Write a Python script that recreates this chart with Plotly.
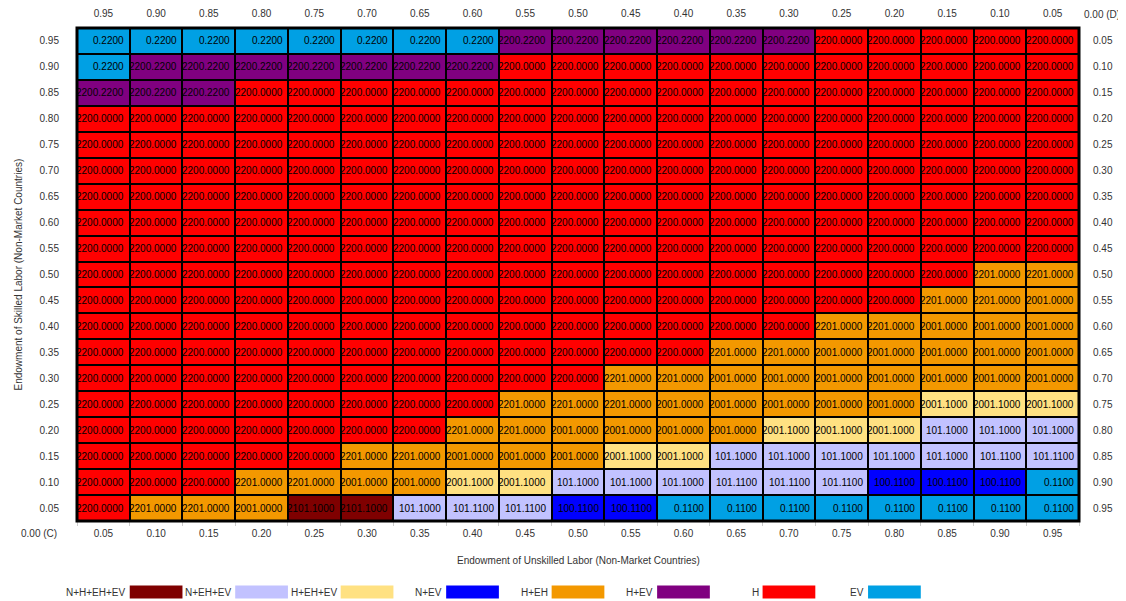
import plotly.graph_objects as go

# ---------------- data ----------------
x_unskilled = [0.05, 0.10, 0.15, 0.20, 0.25, 0.30, 0.35, 0.40, 0.45, 0.50,
               0.55, 0.60, 0.65, 0.70, 0.75, 0.80, 0.85, 0.90, 0.95]
y_skilled = [0.95, 0.90, 0.85, 0.80, 0.75, 0.70, 0.65, 0.60, 0.55, 0.50,
             0.45, 0.40, 0.35, 0.30, 0.25, 0.20, 0.15, 0.10, 0.05]
top_labels = ["0.95", "0.90", "0.85", "0.80", "0.75", "0.70", "0.65", "0.60", "0.55", "0.50",
              "0.45", "0.40", "0.35", "0.30", "0.25", "0.20", "0.15", "0.10", "0.05"]
right_labels = ["0.05", "0.10", "0.15", "0.20", "0.25", "0.30", "0.35", "0.40", "0.45", "0.50",
                "0.55", "0.60", "0.65", "0.70", "0.75", "0.80", "0.85", "0.90", "0.95"]

# rows from top (skilled 0.95) to bottom (skilled 0.05); columns unskilled 0.05 -> 0.95
cell_values = [
    [0.22, 0.22, 0.22, 0.22, 0.22, 0.22, 0.22, 0.22, 2200.22, 2200.22, 2200.22, 2200.22, 2200.22, 2200.22, 2200.0, 2200.0, 2200.0, 2200.0, 2200.0],
    [0.22, 2200.22, 2200.22, 2200.22, 2200.22, 2200.22, 2200.22, 2200.22, 2200.0, 2200.0, 2200.0, 2200.0, 2200.0, 2200.0, 2200.0, 2200.0, 2200.0, 2200.0, 2200.0],
    [2200.22, 2200.22, 2200.22, 2200.0, 2200.0, 2200.0, 2200.0, 2200.0, 2200.0, 2200.0, 2200.0, 2200.0, 2200.0, 2200.0, 2200.0, 2200.0, 2200.0, 2200.0, 2200.0],
    [2200.0, 2200.0, 2200.0, 2200.0, 2200.0, 2200.0, 2200.0, 2200.0, 2200.0, 2200.0, 2200.0, 2200.0, 2200.0, 2200.0, 2200.0, 2200.0, 2200.0, 2200.0, 2200.0],
    [2200.0, 2200.0, 2200.0, 2200.0, 2200.0, 2200.0, 2200.0, 2200.0, 2200.0, 2200.0, 2200.0, 2200.0, 2200.0, 2200.0, 2200.0, 2200.0, 2200.0, 2200.0, 2200.0],
    [2200.0, 2200.0, 2200.0, 2200.0, 2200.0, 2200.0, 2200.0, 2200.0, 2200.0, 2200.0, 2200.0, 2200.0, 2200.0, 2200.0, 2200.0, 2200.0, 2200.0, 2200.0, 2200.0],
    [2200.0, 2200.0, 2200.0, 2200.0, 2200.0, 2200.0, 2200.0, 2200.0, 2200.0, 2200.0, 2200.0, 2200.0, 2200.0, 2200.0, 2200.0, 2200.0, 2200.0, 2200.0, 2200.0],
    [2200.0, 2200.0, 2200.0, 2200.0, 2200.0, 2200.0, 2200.0, 2200.0, 2200.0, 2200.0, 2200.0, 2200.0, 2200.0, 2200.0, 2200.0, 2200.0, 2200.0, 2200.0, 2200.0],
    [2200.0, 2200.0, 2200.0, 2200.0, 2200.0, 2200.0, 2200.0, 2200.0, 2200.0, 2200.0, 2200.0, 2200.0, 2200.0, 2200.0, 2200.0, 2200.0, 2200.0, 2200.0, 2200.0],
    [2200.0, 2200.0, 2200.0, 2200.0, 2200.0, 2200.0, 2200.0, 2200.0, 2200.0, 2200.0, 2200.0, 2200.0, 2200.0, 2200.0, 2200.0, 2200.0, 2200.0, 2201.0, 2201.0],
    [2200.0, 2200.0, 2200.0, 2200.0, 2200.0, 2200.0, 2200.0, 2200.0, 2200.0, 2200.0, 2200.0, 2200.0, 2200.0, 2200.0, 2200.0, 2200.0, 2201.0, 2201.0, 2001.0],
    [2200.0, 2200.0, 2200.0, 2200.0, 2200.0, 2200.0, 2200.0, 2200.0, 2200.0, 2200.0, 2200.0, 2200.0, 2200.0, 2200.0, 2201.0, 2201.0, 2001.0, 2001.0, 2001.0],
    [2200.0, 2200.0, 2200.0, 2200.0, 2200.0, 2200.0, 2200.0, 2200.0, 2200.0, 2200.0, 2200.0, 2200.0, 2201.0, 2201.0, 2001.0, 2001.0, 2001.0, 2001.0, 2001.0],
    [2200.0, 2200.0, 2200.0, 2200.0, 2200.0, 2200.0, 2200.0, 2200.0, 2200.0, 2200.0, 2201.0, 2201.0, 2001.0, 2001.0, 2001.0, 2001.0, 2001.0, 2001.0, 2001.0],
    [2200.0, 2200.0, 2200.0, 2200.0, 2200.0, 2200.0, 2200.0, 2200.0, 2201.0, 2201.0, 2201.0, 2001.0, 2001.0, 2001.0, 2001.0, 2001.0, 2001.1, 2001.1, 2001.1],
    [2200.0, 2200.0, 2200.0, 2200.0, 2200.0, 2200.0, 2200.0, 2201.0, 2201.0, 2001.0, 2001.0, 2001.0, 2001.0, 2001.1, 2001.1, 2001.1, 101.1, 101.1, 101.1],
    [2200.0, 2200.0, 2200.0, 2200.0, 2200.0, 2201.0, 2201.0, 2001.0, 2001.0, 2001.0, 2001.1, 2001.1, 101.1, 101.1, 101.1, 101.1, 101.1, 101.11, 101.11],
    [2200.0, 2200.0, 2200.0, 2201.0, 2201.0, 2001.0, 2001.0, 2001.1, 2001.1, 101.1, 101.1, 101.1, 101.11, 101.11, 101.11, 100.11, 100.11, 100.11, 0.11],
    [2200.0, 2201.0, 2201.0, 2001.0, 2101.1, 2101.1, 101.1, 101.11, 101.11, 100.11, 100.11, 0.11, 0.11, 0.11, 0.11, 0.11, 0.11, 0.11, 0.11],
]

legend_names = ["N+H+EH+EV", "N+EH+EV", "H+EH+EV", "N+EV", "H+EH", "H+EV", "H", "EV"]
legend_colors = ["#7f0000", "#c2c2ff", "#ffe182", "#0000ff", "#f39800", "#800080", "#ff0000", "#00a0e4"]

code_to_region = {
    "0.2200": "EV", "0.1100": "EV",
    "2200.2200": "H+EV",
    "2200.0000": "H",
    "2201.0000": "H+EH", "2001.0000": "H+EH",
    "2001.1000": "H+EH+EV",
    "101.1000": "N+EH+EV", "101.1100": "N+EH+EV",
    "100.1100": "N+EV",
    "2101.1000": "N+H+EH+EV",
}

# ---------------- figure ----------------
FONT = "Liberation Sans, Arial, sans-serif"
TICK_COLOR = "#333333"
step = x_unskilled[1] - x_unskilled[0]

M_L, M_R, M_T, M_B = 69, 55, 20, 88
plot_h = 601 - M_T - M_B

z = [[legend_names.index(code_to_region[f"{v:.4f}"]) for v in row] for row in cell_values]
n = len(legend_colors)
colorscale = []
for i, c in enumerate(legend_colors):
    colorscale.append([i / n, c])
    colorscale.append([(i + 1) / n, c])

fig = go.Figure()
fig.add_trace(go.Heatmap(
    x=x_unskilled, y=y_skilled, z=z, zmin=-0.5, zmax=n - 0.5,
    colorscale=colorscale, showscale=False, xgap=2, ygap=2, hoverinfo="skip",
    zsmooth=False,
))
fig.add_trace(go.Scatter(
    x=x_unskilled, y=y_skilled, xaxis="x2", yaxis="y2", mode="markers",
    marker=dict(opacity=0), hoverinfo="skip", showlegend=False,
))

annotations = []
for yi, row in zip(y_skilled, cell_values):
    for xi, v in zip(x_unskilled, row):
        annotations.append(dict(
            x=xi, y=yi, xref="x", yref="y", text=f"{v:.4f}", showarrow=False,
            xanchor="right", yanchor="middle", xshift=23,
            font=dict(family=FONT, size=10, color="#000000"),
        ))

# legend as a row of label / swatch cells below the grid
sw_top = -64.5 / plot_h
sw_bot = -77.5 / plot_h
shapes = []
for k, (name, col) in enumerate(zip(legend_names, legend_colors)):
    cx = x_unskilled[2 * k + 1]
    shapes.append(dict(type="rect", xref="x", yref="paper",
                       x0=cx - step / 2, x1=cx + step / 2, y0=sw_bot, y1=sw_top,
                       fillcolor=col, line=dict(width=0)))
    annotations.append(dict(x=cx - step / 2, y=(sw_top + sw_bot) / 2, xref="x", yref="paper",
                            text=name, showarrow=False, xanchor="right", yanchor="middle",
                            xshift=-2, font=dict(family=FONT, size=10, color=TICK_COLOR)))

shapes.append(dict(type="rect", xref="paper", yref="paper", x0=0, x1=1, y0=0, y1=1,
                   line=dict(color="#000000", width=3), layer="above"))

annotations += [
    dict(x=0.5, y=0, xref="paper", yref="paper", yshift=-39, yanchor="middle",
         text="Endowment of Unskilled Labor (Non-Market Countries)", showarrow=False,
         font=dict(family=FONT, size=10, color=TICK_COLOR)),
    dict(x=0, y=0.5, xref="paper", yref="paper", xshift=-59, xanchor="center",
         textangle=-90, text="Endowment of Skilled Labor (Non-Market Countries)", showarrow=False,
         font=dict(family=FONT, size=10, color=TICK_COLOR)),
    dict(x=0, y=0, xref="paper", yref="paper", xshift=-18, yshift=-12, xanchor="right",
         yanchor="middle", text="0.00 (C)", showarrow=False,
         font=dict(family=FONT, size=10, color=TICK_COLOR)),
    dict(x=1, y=1, xref="paper", yref="paper", xshift=23, yshift=14, xanchor="center",
         yanchor="middle", text="0.00 (D)", showarrow=False,
         font=dict(family=FONT, size=10, color=TICK_COLOR)),
]

rng = [x_unskilled[0] - step / 2, x_unskilled[-1] + step / 2]
yrng = [y_skilled[-1] - step / 2, y_skilled[0] + step / 2]
bounds = [x_unskilled[0] - step / 2 + i * step for i in range(len(x_unskilled) + 1)]
tickfont = dict(family=FONT, size=10, color=TICK_COLOR)
common = dict(showgrid=False, zeroline=False, showline=False, ticks="outside",
              tickcolor="rgba(0,0,0,0)", tickfont=tickfont, fixedrange=True,
              automargin=False)

fig.update_layout(
    width=1126, height=601,
    margin=dict(l=M_L, r=M_R, t=M_T, b=M_B, autoexpand=False),
    paper_bgcolor="#ffffff", plot_bgcolor="#000000",
    showlegend=False,
    font=dict(family=FONT, size=10, color=TICK_COLOR),
    xaxis=dict(range=rng, tickmode="array", tickvals=x_unskilled,
               ticktext=[f"{v:.2f}" for v in x_unskilled], ticklen=3,
               minor=dict(tickmode="array", tickvals=bounds, ticks="outside", ticklen=4,
                          tickcolor="#cccccc", showgrid=False),
               **common),
    xaxis2=dict(range=rng, overlaying="x", side="top", tickmode="array",
                tickvals=x_unskilled, ticktext=top_labels, ticklen=6, **common),
    yaxis=dict(range=yrng, tickmode="array", tickvals=y_skilled,
               ticktext=[f"{v:.2f}" for v in y_skilled], ticklen=15, **common),
    yaxis2=dict(range=yrng, overlaying="y", side="right", tickmode="array",
                tickvals=y_skilled, ticktext=right_labels, ticklen=11, **common),
    shapes=shapes,
    annotations=annotations,
)

fig.write_html("out.html")
